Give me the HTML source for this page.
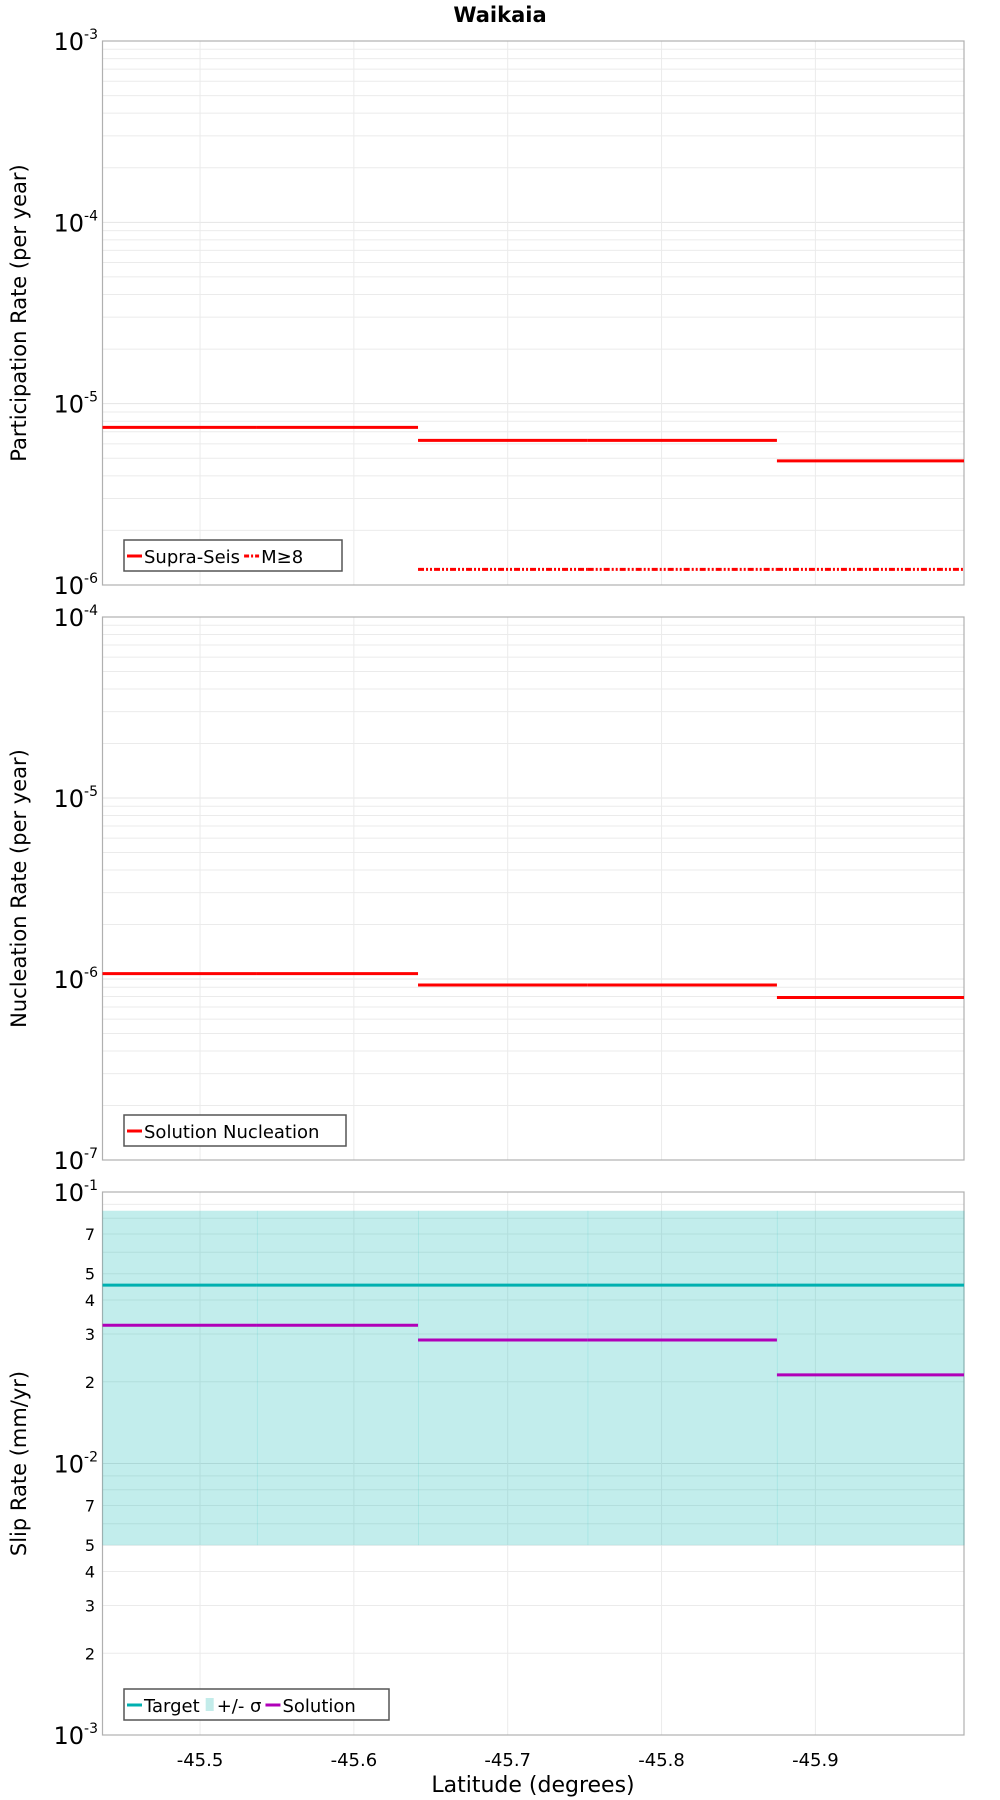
<!DOCTYPE html>
<html><head><meta charset="utf-8"><style>
body{margin:0;background:#fff;}
svg{display:block;}
text{font-family:"DejaVu Sans","Liberation Sans",sans-serif;}
</style></head><body>
<svg id="c" width="1000" height="1800" xmlns="http://www.w3.org/2000/svg">
<text x="500" y="22" text-anchor="middle" font-size="21" font-weight="bold">Waikaia</text>
</svg>
<script>
const sectionEdges = [-45.4366, -45.537, -45.6417, -45.752, -45.875, -45.9966];
const xTicks = [-45.5, -45.6, -45.7, -45.8, -45.9];
const xTickLabels = ["-45.5", "-45.6", "-45.7", "-45.8", "-45.9"];
const supraSeis = [7.4e-6, 7.4e-6, 6.27e-6, 6.27e-6, 4.84e-6];
const mGe8 = [null, null, 1.22e-6, 1.22e-6, 1.22e-6];
const nucleation = [1.07e-6, 1.07e-6, 9.27e-7, 9.27e-7, 7.9e-7];
const slipTarget = [0.0454, 0.0454, 0.0454, 0.0454, 0.0454];
const slipLow = [0.005, 0.005, 0.005, 0.005, 0.005];
const slipHigh = [0.0853, 0.0853, 0.0853, 0.0853, 0.0853];
const slipSolution = [0.0323, 0.0323, 0.0285, 0.0285, 0.0212];

const NS = "http://www.w3.org/2000/svg";
const svg = document.getElementById('c');
const L = 102.5, R = 964;
function mk(tag, attrs, parent) {
  const e = document.createElementNS(NS, tag);
  for (const k in attrs) e.setAttribute(k, attrs[k]);
  (parent || svg).appendChild(e);
  return e;
}
const x = v => L + (v - sectionEdges[0]) / (sectionEdges[5] - sectionEdges[0]) * (R - L);

function panel(name, top, bot, eMax, eMin, title) {
  const g = mk('g', {});
  
  
  const y = v => top + (eMax - Math.log10(v)) / (eMax - eMin) * (bot - top);
  for (let e = eMin; e < eMax; e++) for (let m = 2; m <= 9; m++) {
    const yy = y(m * Math.pow(10, e));
    const ln = mk('line', {x1: L, x2: R, y1: yy, y2: yy, stroke: '#ebebeb', 'stroke-width': 1}, g);
    
    
  }
  for (let e = eMin; e <= eMax; e++) {
    const yy = y(Math.pow(10, e));
    mk('line', {x1: L, x2: R, y1: yy, y2: yy, stroke: '#e4e4e4', 'stroke-width': 1}, g);
    const t = mk('text', {x: 98, y: yy + 9, 'text-anchor': 'end', 'font-size': 24}, g);
    
    
    t.textContent = '10';
    const s = mk('tspan', {dy: -11, 'font-size': 14}, t);
    s.textContent = String(e);
  }
  xTicks.forEach((v, i) => {
    const ln = mk('line', {x1: x(v), x2: x(v), y1: top, y2: bot, stroke: '#ebebeb', 'stroke-width': 1}, g);
    
    
  });
  const fr = mk('rect', {x: L, y: top, width: R - L, height: bot - top, fill: 'none', stroke: '#b0b0b0', 'stroke-width': 1.2}, g);
  
  
  const cy = (top + bot) / 2;
  const at = mk('text', {x: 26, y: cy, 'text-anchor': 'middle', 'font-size': 21, transform: `rotate(-90 26 ${cy})`}, g);
  
  
  at.textContent = title;
  return {g, y};
}
function steps(p, vals, color, dash, name) {
  vals.forEach((v, i) => {
    if (v == null) return;
    const ln = mk('line', {x1: x(sectionEdges[i]), x2: x(sectionEdges[i + 1]), y1: p.y(v), y2: p.y(v), stroke: color, 'stroke-width': 3}, p.g);
    if (dash) ln.setAttribute('stroke-dasharray', dash);
    
    
  });
}
function legend(p, x0, y0, w, items) {
  const b = mk('rect', {x: x0, y: y0, width: w, height: 31, fill: '#fff', stroke: '#555', 'stroke-width': 1.5}, p.g);
  
  
  let cx = x0 + 3;
  items.forEach(it => {
    let sw;
    if (it.band) sw = mk('rect', {x: cx + 2, y: y0 + 9, width: 8, height: 13, fill: '#c3ecea'}, p.g);
    else {
      sw = mk('line', {x1: cx, x2: cx + 15, y1: y0 + 16, y2: y0 + 16, stroke: it.color, 'stroke-width': 3}, p.g);
      if (it.dash) sw.setAttribute('stroke-dasharray', it.dash);
    }
    
    
    const t = mk('text', {x: cx + (it.band ? 13 : 17), y: y0 + 23, 'font-size': 18}, p.g);
    
    
    t.textContent = it.label;
    cx += (it.band ? 13 : 17) + t.getComputedTextLength() + 4;
  });
}

const p1 = panel('participation-panel', 41, 585, -3, -6, 'Participation Rate (per year)');
steps(p1, supraSeis, '#ff0000', null, 'supra-seis-line');
steps(p1, mGe8, '#ff0000', '6,2,2,2,2,2', 'm8-line');
legend(p1, 124, 540, 218, [{label: 'Supra-Seis', color: '#ff0000'}, {label: 'M≥8', color: '#ff0000', dash: '5,2,2,2'}]);

const p2 = panel('nucleation-panel', 617, 1160, -4, -7, 'Nucleation Rate (per year)');
steps(p2, nucleation, '#ff0000', null, 'nucleation-line');
legend(p2, 124, 1115, 222, [{label: 'Solution Nucleation', color: '#ff0000'}]);

const p3 = panel('slip-rate-panel', 1192, 1735, -1, -3, 'Slip Rate (mm/yr)');
sectionEdges.slice(0, 5).forEach((e, i) => {
  const y1 = p3.y(slipHigh[i]), y2 = p3.y(slipLow[i]);
  const r = mk('rect', {x: x(e), y: y1, width: x(sectionEdges[i + 1]) - x(e) + 0.5, height: y2 - y1, fill: 'rgba(0,180,175,0.24)'}, p3.g);
  
  
});
[-3, -2].forEach(e => [2, 3, 4, 5, 7].forEach(m => {
  const t = mk('text', {x: 95, y: p3.y(m * Math.pow(10, e)) + 6, 'text-anchor': 'end', 'font-size': 16}, p3.g);
  
  
  t.textContent = String(m);
}));
steps(p3, slipTarget, '#00b0b0', null, 'target-line');
steps(p3, slipSolution, '#b000b8', null, 'solution-line');
legend(p3, 124, 1689, 265, [{label: 'Target', color: '#00b0b0'}, {label: '+/- σ', band: true}, {label: 'Solution', color: '#b000b8'}]);

xTicks.forEach((v, i) => {
  const t = mk('text', {x: x(v), y: 1766, 'text-anchor': 'middle', 'font-size': 18});
  
  
  t.textContent = xTickLabels[i];
});
const xt = mk('text', {x: 533, y: 1792, 'text-anchor': 'middle', 'font-size': 22});


xt.textContent = 'Latitude (degrees)';
</script>
</body></html>
